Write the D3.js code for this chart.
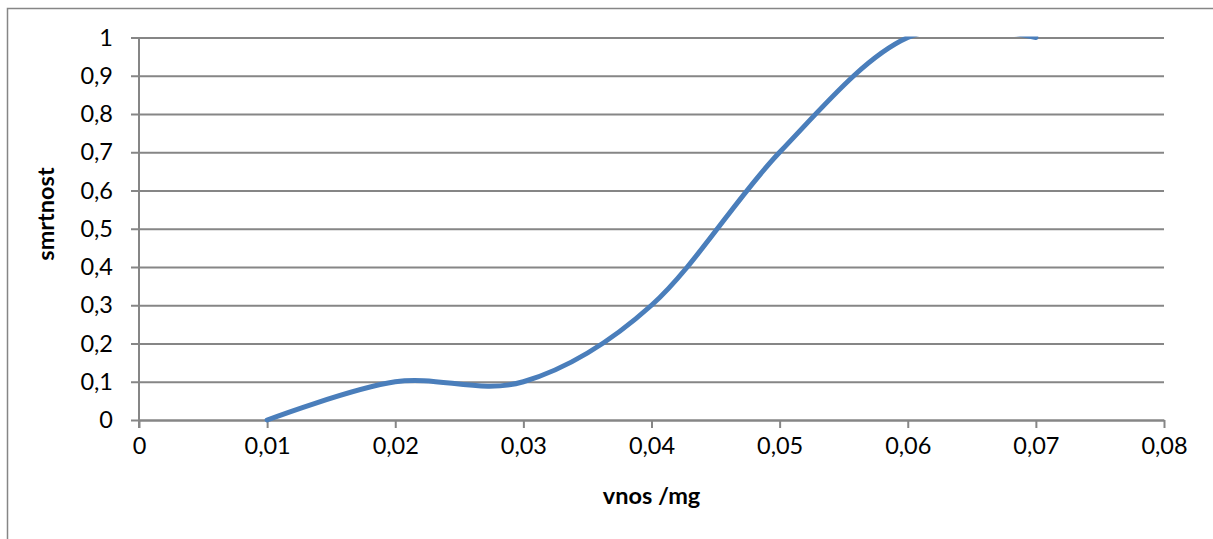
<!DOCTYPE html>
<html>
<head>
<meta charset="utf-8">
<script src="https://cdn.jsdelivr.net/npm/d3@7"></script>
<style>
  body { margin: 0; background: #fff; }
  svg { display: block; }
  .tick text { font-family: Lato, "Open Sans", sans-serif; fill: #000; }
</style>
</head>
<body>
<svg id="chart" width="1213" height="539"></svg>
<script>
// Data
const doses = [0.01, 0.02, 0.03, 0.04, 0.05, 0.06, 0.07];
const mortality = [0, 0.1, 0.1, 0.3, 0.7, 1, 1];
const xTicks = [0, 0.01, 0.02, 0.03, 0.04, 0.05, 0.06, 0.07, 0.08];
const yTicks = [0, 0.1, 0.2, 0.3, 0.4, 0.5, 0.6, 0.7, 0.8, 0.9, 1];
const xTitle = 'vnos /mg';
const yTitle = 'smrtnost';

const svg = d3.select('#chart');
const plot = { left: 139, right: 1164, top: 37.5, bottom: 420 };
const gridColor = '#868686';
const fontFamily = 'Lato, "Open Sans", sans-serif';

// Decimal comma, like the original
const locale = d3.formatLocale({ decimal: ',', thousands: '.', grouping: [3], currency: ['', ''] });
const fmt = locale.format('~f');

const x = d3.scaleLinear().domain([0, 0.08]).range([plot.left, plot.right]);
const y = d3.scaleLinear().domain([0, 1]).range([plot.bottom, plot.top]);

// Outer chart border (runs off the right and bottom edge)
svg.append('rect')
    .attr('x', 7.5).attr('y', 8.5)
    .attr('width', 1300).attr('height', 600)
    .attr('fill', 'none')
    .attr('stroke', gridColor)
    .attr('stroke-width', 1.5);

// Y axis with full-width gridlines
const yAxis = svg.append('g')
    .attr('transform', `translate(${plot.left},0)`)
    .call(d3.axisLeft(y).tickValues(yTicks).tickFormat(fmt)
        .tickSizeInner(-(plot.right - plot.left)).tickSizeOuter(0));
yAxis.select('.domain').remove();
yAxis.selectAll('.tick line')
    .attr('x1', -8)
    .attr('stroke', gridColor)
    .attr('stroke-width', 2);
yAxis.selectAll('.tick text')
    .attr('font-size', 23.5)
    .attr('x', -26);

// X axis
const xAxis = svg.append('g')
    .attr('transform', `translate(0,${plot.bottom})`)
    .call(d3.axisBottom(x).tickValues(xTicks).tickFormat(fmt)
        .tickSizeInner(8).tickSizeOuter(0).tickPadding(9));
xAxis.select('.domain')
    .attr('stroke', gridColor)
    .attr('stroke-width', 2);
xAxis.selectAll('.tick line')
    .attr('stroke', gridColor)
    .attr('stroke-width', 2);
xAxis.selectAll('.tick text')
    .attr('font-size', 23.5);

// Vertical axis line
svg.append('line')
    .attr('x1', plot.left).attr('x2', plot.left)
    .attr('y1', plot.top).attr('y2', plot.bottom + 8)
    .attr('stroke', gridColor)
    .attr('stroke-width', 2);

// Clip the smoothed line to the plot area like Excel does
svg.append('defs').append('clipPath')
    .attr('id', 'plot-clip')
    .append('rect')
    .attr('x', plot.left).attr('y', plot.top - 1)
    .attr('width', plot.right - plot.left)
    .attr('height', plot.bottom - plot.top + 10);

const points = doses.map((d, i) => [d, mortality[i]]);
const line = d3.line()
    .x(d => x(d[0]))
    .y(d => y(d[1]))
    .curve(d3.curveCardinal.tension(0));

svg.append('path')
    .datum(points)
    .attr('clip-path', 'url(#plot-clip)')
    .attr('d', line)
    .attr('fill', 'none')
    .attr('stroke', '#4a7ebb')
    .attr('stroke-width', 5)
    .attr('stroke-linecap', 'round');

// Axis titles
svg.append('text')
    .attr('x', (plot.left + plot.right) / 2)
    .attr('y', 504)
    .attr('text-anchor', 'middle')
    .attr('font-family', fontFamily)
    .attr('font-weight', 'bold')
    .attr('font-size', 23.5)
    .text(xTitle);

svg.append('text')
    .attr('transform', 'translate(54,214) rotate(-90)')
    .attr('text-anchor', 'middle')
    .attr('font-family', fontFamily)
    .attr('font-weight', 'bold')
    .attr('font-size', 23.5)
    .text(yTitle);
</script>
</body>
</html>
